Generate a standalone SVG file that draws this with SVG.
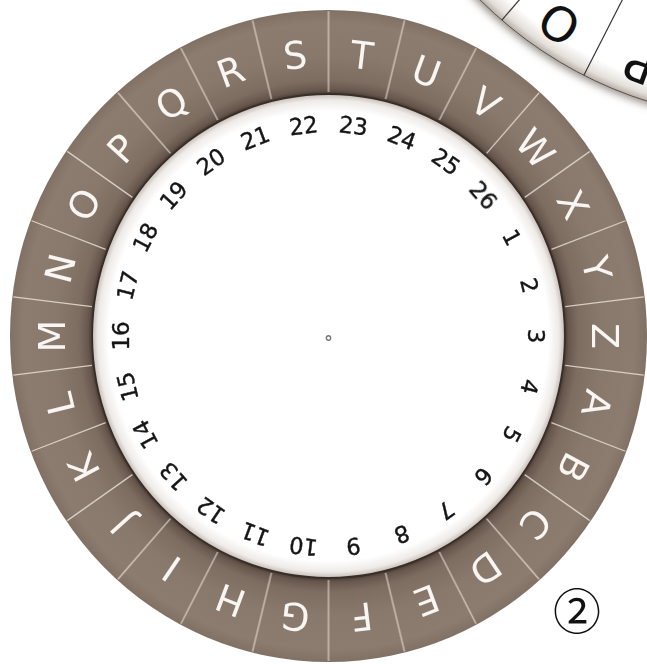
<svg xmlns="http://www.w3.org/2000/svg" width="647" height="664" viewBox="0 0 647 664">
<defs>
  <radialGradient id="ringGrad" gradientUnits="userSpaceOnUse" cx="0" cy="0" r="326">
    <stop offset="0.74" stop-color="#463830"/>
    <stop offset="0.755" stop-color="#66564c"/>
    <stop offset="0.785" stop-color="#7d6d61"/>
    <stop offset="0.86" stop-color="#89796c"/>
    <stop offset="0.96" stop-color="#8c7c70"/>
    <stop offset="1" stop-color="#817165"/>
  </radialGradient>
  <radialGradient id="discGrad" gradientUnits="userSpaceOnUse" cx="0" cy="0" r="242">
    <stop offset="0" stop-color="#ffffff"/>
    <stop offset="0.93" stop-color="#ffffff"/>
    <stop offset="0.975" stop-color="#eeeae7"/>
    <stop offset="1" stop-color="#c4bcb6"/>
  </radialGradient>
  <radialGradient id="w1Grad" gradientUnits="userSpaceOnUse" cx="770" cy="-290" r="410">
    <stop offset="0" stop-color="#ffffff"/>
    <stop offset="0.95" stop-color="#ffffff"/>
    <stop offset="0.983" stop-color="#e4dfda"/>
    <stop offset="1" stop-color="#b8b0a9"/>
  </radialGradient>
  <filter id="blur" x="-10%" y="-10%" width="120%" height="120%">
    <feGaussianBlur stdDeviation="4"/>
  </filter>
  <line id="div" x1="0" y1="-244" x2="0" y2="-325"/>
</defs>
<style>
  .div{stroke:#e8ded4;stroke-width:1.3;opacity:0.85}
  .let{font-family:"DejaVu Sans",sans-serif;font-size:38px;fill:#f8f5f2;text-anchor:middle}
  .num{font-family:"DejaVu Sans",sans-serif;font-size:23px;fill:#151515;text-anchor:middle;stroke:#151515;stroke-width:0.4}
  .w1div{stroke:#3a3532;stroke-width:1.2}
  .w1let{font-family:"DejaVu Sans",sans-serif;font-size:48px;fill:#111111;text-anchor:middle}
</style>
<rect width="647" height="664" fill="#ffffff"/>

<g id="wheel1">
  <circle cx="770" cy="-290" r="413" fill="#8f8780" filter="url(#blur)"/>
  <circle cx="770" cy="-290" r="410" fill="url(#w1Grad)" stroke="#5b534d" stroke-width="1"/>
  <g transform="translate(770,-290)">
    <line class="w1div" x1="0" y1="-300" x2="0" y2="-410" transform="rotate(207)"/>
    <line class="w1div" x1="0" y1="-300" x2="0" y2="-410" transform="rotate(220.85)"/>
    <line class="w1div" x1="0" y1="-300" x2="0" y2="-410" transform="rotate(193.15)"/>
    <text class="w1let" transform="rotate(213.9) translate(0,-378)" dy="0.36em">O</text>
    <text class="w1let" transform="rotate(200.1) translate(0,-378)" dy="0.36em">P</text>
  </g>
</g>

<g id="wheel2" transform="translate(328.5,336) scale(0.977,1)">
  <circle r="326" fill="url(#ringGrad)"/>
  <g id="dividers" class="div">
    <use href="#div" transform="rotate(0)"/>
    <use href="#div" transform="rotate(13.846)"/>
    <use href="#div" transform="rotate(27.692)"/>
    <use href="#div" transform="rotate(41.538)"/>
    <use href="#div" transform="rotate(55.385)"/>
    <use href="#div" transform="rotate(69.231)"/>
    <use href="#div" transform="rotate(83.077)"/>
    <use href="#div" transform="rotate(96.923)"/>
    <use href="#div" transform="rotate(110.769)"/>
    <use href="#div" transform="rotate(124.615)"/>
    <use href="#div" transform="rotate(138.462)"/>
    <use href="#div" transform="rotate(152.308)"/>
    <use href="#div" transform="rotate(166.154)"/>
    <use href="#div" transform="rotate(180)"/>
    <use href="#div" transform="rotate(193.846)"/>
    <use href="#div" transform="rotate(207.692)"/>
    <use href="#div" transform="rotate(221.538)"/>
    <use href="#div" transform="rotate(235.385)"/>
    <use href="#div" transform="rotate(249.231)"/>
    <use href="#div" transform="rotate(263.077)"/>
    <use href="#div" transform="rotate(276.923)"/>
    <use href="#div" transform="rotate(290.769)"/>
    <use href="#div" transform="rotate(304.615)"/>
    <use href="#div" transform="rotate(318.462)"/>
    <use href="#div" transform="rotate(332.308)"/>
    <use href="#div" transform="rotate(346.154)"/>
  </g>
  <circle r="242" fill="url(#discGrad)" stroke="#3a2e28" stroke-width="2"/>
  <circle cx="0" cy="2" r="2.2" fill="none" stroke="#777777" stroke-width="1.4"/>

  <g id="letters">
    <text class="let" transform="rotate(6.923) translate(0,-283)" dy="0.36em">T</text>
    <text class="let" transform="rotate(20.769) translate(0,-283)" dy="0.36em">U</text>
    <text class="let" transform="rotate(34.615) translate(0,-283)" dy="0.36em">V</text>
    <text class="let" transform="rotate(48.462) translate(0,-283)" dy="0.36em">W</text>
    <text class="let" transform="rotate(62.308) translate(0,-283)" dy="0.36em">X</text>
    <text class="let" transform="rotate(76.154) translate(0,-283)" dy="0.36em">Y</text>
    <text class="let" transform="rotate(90) translate(0,-283)" dy="0.36em">Z</text>
    <text class="let" transform="rotate(103.846) translate(0,-283)" dy="0.36em">A</text>
    <text class="let" transform="rotate(117.692) translate(0,-283)" dy="0.36em">B</text>
    <text class="let" transform="rotate(131.538) translate(0,-283)" dy="0.36em">C</text>
    <text class="let" transform="rotate(145.385) translate(0,-283)" dy="0.36em">D</text>
    <text class="let" transform="rotate(159.231) translate(0,-283)" dy="0.36em">E</text>
    <text class="let" transform="rotate(173.077) translate(0,-283)" dy="0.36em">F</text>
    <text class="let" transform="rotate(186.923) translate(0,-283)" dy="0.36em">G</text>
    <text class="let" transform="rotate(200.769) translate(0,-283)" dy="0.36em">H</text>
    <text class="let" transform="rotate(214.615) translate(0,-283)" dy="0.36em">I</text>
    <text class="let" transform="rotate(228.462) translate(0,-283)" dy="0.36em">J</text>
    <text class="let" transform="rotate(242.308) translate(0,-283)" dy="0.36em">K</text>
    <text class="let" transform="rotate(256.154) translate(0,-283)" dy="0.36em">L</text>
    <text class="let" transform="rotate(270) translate(0,-283)" dy="0.36em">M</text>
    <text class="let" transform="rotate(283.846) translate(0,-283)" dy="0.36em">N</text>
    <text class="let" transform="rotate(297.692) translate(0,-283)" dy="0.36em">O</text>
    <text class="let" transform="rotate(311.538) translate(0,-283)" dy="0.36em">P</text>
    <text class="let" transform="rotate(325.385) translate(0,-283)" dy="0.36em">Q</text>
    <text class="let" transform="rotate(339.231) translate(0,-283)" dy="0.36em">R</text>
    <text class="let" transform="rotate(353.077) translate(0,-283)" dy="0.36em">S</text>
  </g>

  <g id="numbers">
    <text class="num" transform="rotate(62.308) translate(0,-212)" dy="0.36em">1</text>
    <text class="num" transform="rotate(76.154) translate(0,-212)" dy="0.36em">2</text>
    <text class="num" transform="rotate(90) translate(0,-212)" dy="0.36em">3</text>
    <text class="num" transform="rotate(103.846) translate(0,-212)" dy="0.36em">4</text>
    <text class="num" transform="rotate(117.692) translate(0,-212)" dy="0.36em">5</text>
    <text class="num" transform="rotate(131.538) translate(0,-212)" dy="0.36em">6</text>
    <text class="num" transform="rotate(145.385) translate(0,-212)" dy="0.36em">7</text>
    <text class="num" transform="rotate(159.231) translate(0,-212)" dy="0.36em">8</text>
    <text class="num" transform="rotate(173.077) translate(0,-212)" dy="0.36em">9</text>
    <text class="num" transform="rotate(186.923) translate(0,-212)" dy="0.36em">10</text>
    <text class="num" transform="rotate(200.769) translate(0,-212)" dy="0.36em">11</text>
    <text class="num" transform="rotate(214.615) translate(0,-212)" dy="0.36em">12</text>
    <text class="num" transform="rotate(228.462) translate(0,-212)" dy="0.36em">13</text>
    <text class="num" transform="rotate(242.308) translate(0,-212)" dy="0.36em">14</text>
    <text class="num" transform="rotate(256.154) translate(0,-212)" dy="0.36em">15</text>
    <text class="num" transform="rotate(270) translate(0,-212)" dy="0.36em">16</text>
    <text class="num" transform="rotate(283.846) translate(0,-212)" dy="0.36em">17</text>
    <text class="num" transform="rotate(297.692) translate(0,-212)" dy="0.36em">18</text>
    <text class="num" transform="rotate(311.538) translate(0,-212)" dy="0.36em">19</text>
    <text class="num" transform="rotate(325.385) translate(0,-212)" dy="0.36em">20</text>
    <text class="num" transform="rotate(339.231) translate(0,-212)" dy="0.36em">21</text>
    <text class="num" transform="rotate(353.077) translate(0,-212)" dy="0.36em">22</text>
    <text class="num" transform="rotate(6.923) translate(0,-212)" dy="0.36em">23</text>
    <text class="num" transform="rotate(20.769) translate(0,-212)" dy="0.36em">24</text>
    <text class="num" transform="rotate(34.615) translate(0,-212)" dy="0.36em">25</text>
    <text class="num" transform="rotate(48.462) translate(0,-212)" dy="0.36em">26</text>
  </g>
</g>

<g id="label">
  <text x="577" y="612" dy="0.35em" text-anchor="middle" font-size="48" font-family="'DejaVu Serif','Noto Sans CJK SC',serif" fill="#111111">②</text>
</g>
</svg>
